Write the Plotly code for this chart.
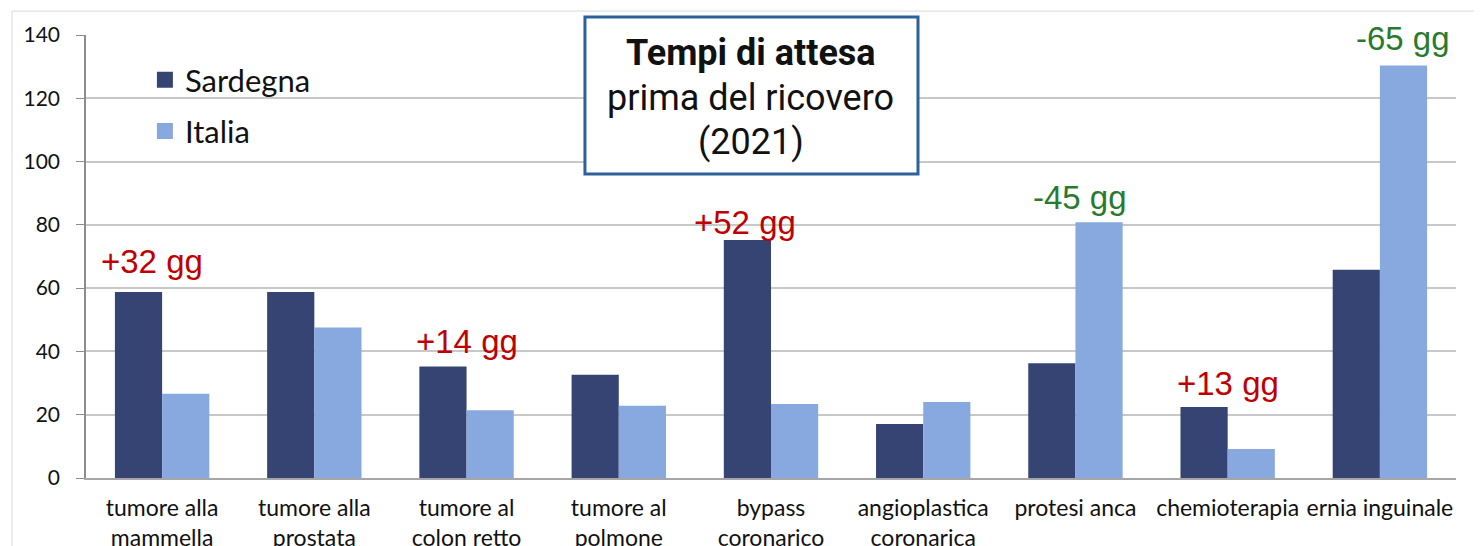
import plotly.graph_objects as go

categories = ["tumore alla<br>mammella", "tumore alla<br>prostata", "tumore al<br>colon retto",
              "tumore al<br>polmone", "bypass<br>coronarico", "angioplastica<br>coronarica",
              "protesi anca", "chemioterapia", "ernia inguinale"]
sardegna = [58.8, 58.8, 35.2, 32.6, 75.2, 17.1, 36.3, 22.4, 65.8]
italia = [26.6, 47.6, 21.4, 22.8, 23.4, 24.0, 80.8, 9.2, 130.4]

series_names = ["Sardegna", "Italia"]
series_colors = ["#364474", "#87a9df"]

diff_labels = ["+32 gg", "+14 gg", "+52 gg", "-45 gg", "+13 gg", "-65 gg"]
diff_cats = [0, 2, 4, 6, 7, 8]
diff_y = [68.3, 43.0, 80.9, 88.8, 30.0, 139.0]
diff_shift = [-10, 0, -26, 5, 0, 23]
diff_colors = ["#c00000", "#c00000", "#c00000", "#2a7a2e", "#c00000", "#2a7a2e"]

title_lines = ["<b>Tempi di attesa</b>", "prima del ricovero", "(2021)"]

fig = go.Figure()
for vals, name, col in zip([sardegna, italia], series_names, series_colors):
    fig.add_trace(go.Bar(x=categories, y=vals, name=name, marker_color=col,
                         marker_line_width=0, showlegend=False))
# legend-only entries with larger square swatches
for i, (name, col) in enumerate(zip(series_names, series_colors)):
    fig.add_trace(go.Scatter(x=[None], y=[None], mode="markers", name=name,
                             marker=dict(symbol="square", size=20, color=col),
                             legendgroup=str(i)))

for lab, ci, yv, sh, col in zip(diff_labels, diff_cats, diff_y, diff_shift, diff_colors):
    fig.add_annotation(x=categories[ci], y=yv, text=lab, showarrow=False, xshift=sh,
                       font=dict(family="Liberation Sans, Arial", size=33, color=col))

# outer chart border
fig.add_shape(type="rect", xref="paper", yref="paper", x0=-0.054, x1=1.2, y0=-0.5, y1=1.054,
              line=dict(color="#d9d9d9", width=1), fillcolor="rgba(0,0,0,0)", layer="below")
# white area behind legend covering gridline
fig.add_shape(type="rect", xref="paper", yref="paper", x0=0.0248, x1=0.184, y0=0.73, y1=0.94,
              line=dict(width=0), fillcolor="white", layer="between")
# title box
fig.add_shape(type="rect", xref="paper", yref="paper", x0=0.3642, x1=0.6073, y0=0.686, y1=1.0406,
              line=dict(color="#2e619c", width=3), fillcolor="white", layer="above")
for txt, yp in zip(title_lines, [0.959, 0.858, 0.758]):
    fig.add_annotation(xref="paper", yref="paper", x=0.4854, y=yp, text=txt, showarrow=False,
                       xanchor="center", yanchor="middle",
                       font=dict(family="Roboto, Liberation Sans", size=36, color="#111111"))

fig.update_layout(
    width=1482, height=546,
    margin=dict(l=78, r=34, t=27, b=76, autoexpand=False),
    plot_bgcolor="white", paper_bgcolor="white",
    barmode="group", bargap=0.38, bargroupgap=0,
    font=dict(family="Lato, Open Sans", color="#111111"),
    legend=dict(x=0.043, y=0.959, xanchor="left", yanchor="top", bgcolor="rgba(0,0,0,0)",
                font=dict(family="Lato, Open Sans", size=31, color="#111111"),
                tracegroupgap=8, itemwidth=30),
    xaxis=dict(showline=True, linecolor="#a6a6a6", linewidth=2, ticks="",
               tickfont=dict(size=23, color="#111111"), showgrid=False,
               ticklabelstandoff=8, automargin=False),
    yaxis=dict(range=[0, 140], tickvals=[0, 20, 40, 60, 80, 100, 120, 140],
               showgrid=True, gridcolor="#c8c8c8", gridwidth=1.5,
               showline=True, linecolor="#8c8c8c", linewidth=1.5,
               ticks="outside", ticklen=8, tickcolor="#8c8c8c",
               tickfont=dict(size=21, color="#111111"), zeroline=False,
               ticklabelstandoff=12, automargin=False),
)

fig.write_html("out.html")
